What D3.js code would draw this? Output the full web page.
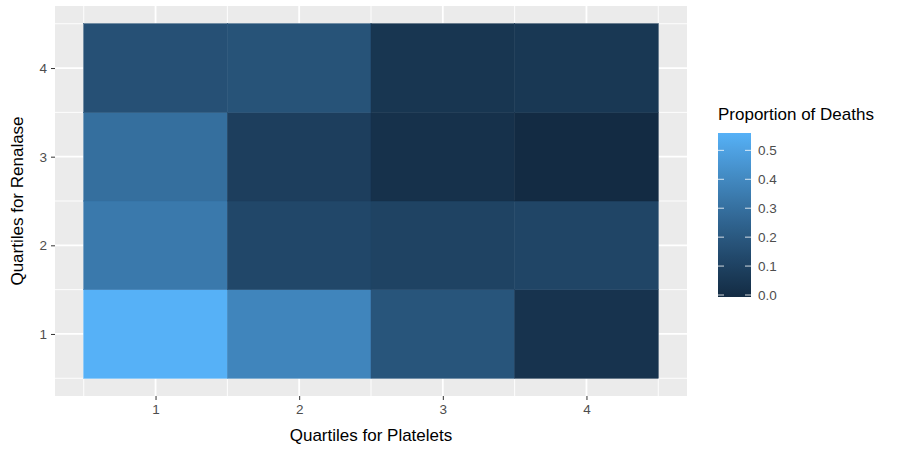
<!DOCTYPE html>
<html><head><meta charset="utf-8">
<script src="https://cdn.jsdelivr.net/npm/d3@7"></script>
<style>body{margin:0;background:#fff;} svg{display:block;font-family:"Liberation Sans",Arial,sans-serif;}</style>
</head><body>
<svg id="c" width="917" height="452"></svg>
<script>
const platelets = [1, 2, 3, 4];
const renalase = [1, 2, 3, 4];
// rows: renalase quartile 1..4; values per platelet quartile 1..4
const row1 = [0.56, 0.39, 0.19, 0.04];
const row2 = [0.34, 0.13, 0.11, 0.12];
const row3 = [0.30, 0.09, 0.03, 0.00];
const row4 = [0.17, 0.18, 0.05, 0.06];
const rows = [row1, row2, row3, row4];
const legendTicks = [0.0, 0.1, 0.2, 0.3, 0.4, 0.5];
const xTitle = "Quartiles for Platelets";
const yTitle = "Quartiles for Renalase";
const legendTitle = "Proportion of Deaths";

const cells = [];
renalase.forEach((r, i) => platelets.forEach((p, j) => cells.push({p, r, v: rows[i][j]})));

const svg = d3.select("#c");
const P = {l: 55, r: 687, t: 6, b: 396};
const x = d3.scaleLinear().domain([0.3, 4.7]).range([P.l, P.r]);
const y = d3.scaleLinear().domain([0.3, 4.7]).range([P.b, P.t]);
const vmin = d3.min(cells, d => d.v), vmax = d3.max(cells, d => d.v);
const color = d3.scaleLinear().domain([vmin, vmax]).range(["#132B43", "#56B1F7"]).interpolate(d3.interpolateLab);

svg.append("rect").attr("x", P.l).attr("y", P.t).attr("width", P.r - P.l).attr("height", P.b - P.t).attr("fill", "#EBEBEB");
const g = svg.append("g");
const minor = [0.5, 1.5, 2.5, 3.5, 4.5];
minor.forEach(m => {
  g.append("line").attr("x1", x(m)).attr("x2", x(m)).attr("y1", P.t).attr("y2", P.b).attr("stroke", "#fff").attr("stroke-width", 0.9);
  g.append("line").attr("y1", y(m)).attr("y2", y(m)).attr("x1", P.l).attr("x2", P.r).attr("stroke", "#fff").attr("stroke-width", 0.9);
});
platelets.forEach(m => g.append("line").attr("x1", x(m)).attr("x2", x(m)).attr("y1", P.t).attr("y2", P.b).attr("stroke", "#fff").attr("stroke-width", 1.8));
renalase.forEach(m => g.append("line").attr("y1", y(m)).attr("y2", y(m)).attr("x1", P.l).attr("x2", P.r).attr("stroke", "#fff").attr("stroke-width", 1.8));

svg.append("g").selectAll("rect").data(cells).join("rect")
  .attr("x", d => x(d.p - 0.5)).attr("y", d => y(d.r + 0.5))
  .attr("width", d => x(d.p + 0.5) - x(d.p - 0.5)).attr("height", d => y(d.r - 0.5) - y(d.r + 0.5))
  .attr("fill", d => color(d.v)).attr("stroke", d => color(d.v)).attr("stroke-width", 0.5);

const xa = svg.append("g").attr("transform", `translate(0,${P.b})`)
  .call(d3.axisBottom(x).tickValues(platelets).tickFormat(d3.format("d")).tickSize(4).tickPadding(4));
const ya = svg.append("g").attr("transform", `translate(${P.l},0)`)
  .call(d3.axisLeft(y).tickValues(renalase).tickFormat(d3.format("d")).tickSize(4).tickPadding(4));
[xa, ya].forEach(a => {
  a.select(".domain").remove();
  a.selectAll(".tick line").attr("stroke", "#333").attr("stroke-width", 1);
  a.selectAll(".tick text").attr("fill", "#4D4D4D").attr("font-size", 13.5).attr("font-family", "Liberation Sans, Arial, sans-serif");
});

svg.append("text").attr("x", (P.l + P.r) / 2).attr("y", 441).attr("text-anchor", "middle")
  .attr("font-size", 17).attr("fill", "#000").text(xTitle);
svg.append("text").attr("transform", `translate(23,${(P.t + P.b) / 2}) rotate(-90)`).attr("text-anchor", "middle")
  .attr("font-size", 17).attr("fill", "#000").text(yTitle);

const L = {x: 718, w: 33, top: 133, bot: 297};
svg.append("text").attr("x", 718).attr("y", 120).attr("font-size", 17).attr("fill", "#000").text(legendTitle);
const defs = svg.append("defs");
const grad = defs.append("linearGradient").attr("id", "lg").attr("x1", 0).attr("x2", 0).attr("y1", 1).attr("y2", 0);
d3.range(0, 1.0001, 0.05).forEach(t => grad.append("stop").attr("offset", t).attr("stop-color", color(vmin + t * (vmax - vmin))));
svg.append("rect").attr("x", L.x).attr("y", L.top).attr("width", L.w).attr("height", L.bot - L.top).attr("fill", "url(#lg)");
const ly = d3.scaleLinear().domain([vmin, vmax]).range([L.bot - 2, L.top]);
const lt = svg.append("g");
legendTicks.forEach(t => {
  lt.append("line").attr("x1", L.x).attr("x2", L.x + 6).attr("y1", ly(t)).attr("y2", ly(t)).attr("stroke", "#fff").attr("stroke-opacity", 0.8);
  lt.append("line").attr("x1", L.x + L.w - 6).attr("x2", L.x + L.w).attr("y1", ly(t)).attr("y2", ly(t)).attr("stroke", "#fff").attr("stroke-opacity", 0.8);
  lt.append("text").attr("x", L.x + L.w + 7).attr("y", ly(t)).attr("dy", "0.35em").attr("font-size", 13.5).attr("fill", "#4D4D4D").text(d3.format(".1f")(t));
});
</script>
</body></html>
